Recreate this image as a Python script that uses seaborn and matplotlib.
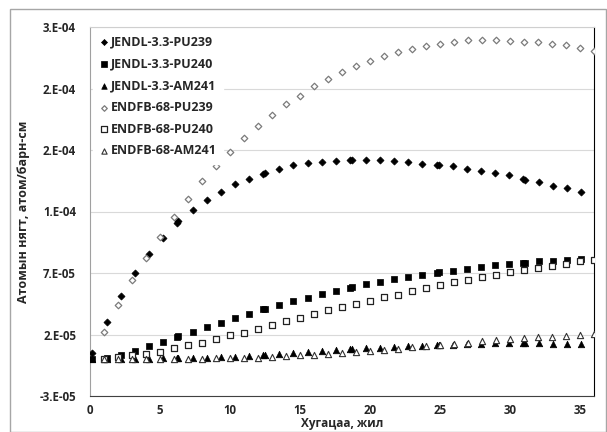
import numpy as np
import pandas as pd
import seaborn as sns
import matplotlib
matplotlib.use("Agg")
import matplotlib.pyplot as plt
from matplotlib.patches import Rectangle

sns.set_style("white")
plt.rcParams['font.family'] = ['Open Sans', 'DejaVu Sans']
plt.rcParams['font.weight'] = 'bold'

# burnup time, years (JENDL points have double entries at cycle ends)
jendl_years = [0.15, 1.18, 2.18, 3.18, 4.18, 5.18, 6.2, 6.32, 7.33, 8.33, 9.33, 10.33,
               11.33, 12.33, 12.48, 13.5, 14.5, 15.55, 16.55, 17.55, 18.55, 18.7, 19.7,
               20.7, 21.7, 22.73, 23.73, 24.8, 24.9, 25.9, 26.9, 27.9, 28.9, 29.9,
               30.93, 31.05, 32.05, 33.05, 34.05, 35.05]
endf_years = list(range(1, 37))

# atom densities, 1e-5 atom/barn-cm
jendl_pu239 = [0.49, 3.0, 5.14, 7.0, 8.54, 9.85, 11.07, 11.2, 12.1, 12.9, 13.6, 14.2,
               14.63, 15.07, 15.15, 15.45, 15.74, 15.94, 16.04, 16.1, 16.18, 16.18, 16.18,
               16.18, 16.1, 16.04, 15.9, 15.8, 15.8, 15.66, 15.45, 15.28, 15.12, 14.93,
               14.63, 14.58, 14.36, 14.11, 13.9, 13.62]
jendl_pu240 = [0.0, 0.08, 0.3, 0.65, 1.04, 1.42, 1.8, 1.88, 2.2, 2.64, 2.94, 3.38,
               3.67, 4.05, 4.08, 4.36, 4.71, 4.98, 5.3, 5.5, 5.74, 5.85, 6.07,
               6.23, 6.5, 6.66, 6.85, 7.02, 7.07, 7.18, 7.32, 7.48, 7.62, 7.73,
               7.81, 7.81, 7.94, 7.99, 8.05, 8.13]
jendl_am241 = [0.0, 0.0, 0.0, 0.02, 0.03, 0.05, 0.07, 0.08, 0.11, 0.12, 0.14, 0.2,
               0.24, 0.3, 0.32, 0.38, 0.46, 0.55, 0.66, 0.75, 0.82, 0.84, 0.87,
               0.93, 0.98, 1.05, 1.1, 1.14, 1.15, 1.17, 1.22, 1.25, 1.27, 1.28,
               1.3, 1.3, 1.27, 1.26, 1.25, 1.25]
endf_pu239 = [2.18, 4.36, 6.4, 8.24, 9.93, 11.58, 13.03, 14.47, 15.72, 16.86, 17.95, 18.98,
              19.88, 20.7, 21.43, 22.19, 22.79, 23.33, 23.79, 24.26, 24.61, 24.94, 25.21,
              25.48, 25.61, 25.78, 25.91, 25.91, 25.97, 25.89, 25.81, 25.75, 25.61, 25.5,
              25.29, 25.07]
endf_pu240 = [0.0, 0.16, 0.34, 0.4, 0.57, 0.87, 1.16, 1.32, 1.63, 1.96, 2.15, 2.48,
              2.81, 3.1, 3.34, 3.65, 3.97, 4.24, 4.52, 4.76, 5.03, 5.25, 5.52,
              5.79, 5.99, 6.26, 6.44, 6.66, 6.85, 7.05, 7.26, 7.42, 7.59, 7.75,
              7.95, 8.08]
endf_am241 = [0.0, 0.02, 0.0, 0.0, 0.0, 0.0, 0.0, 0.0, 0.05, 0.08, 0.1, 0.13,
              0.16, 0.24, 0.3, 0.33, 0.44, 0.52, 0.57, 0.65, 0.73, 0.85, 0.98,
              1.04, 1.14, 1.2, 1.34, 1.47, 1.55, 1.66, 1.75, 1.8, 1.83, 1.88,
              1.94, 2.02]

y_ticks = [-3e-5, 2e-5, 7e-5, 1.2e-4, 1.7e-4, 2.2e-4, 2.7e-4]
y_tick_labels = ['-3.E-05', '2.E-05', '7.E-05', '1.E-04', '2.E-04', '2.E-04', '3.E-04']
x_ticks = [0, 5, 10, 15, 20, 25, 30, 35]

series = [
    ("JENDL-3.3-PU239", jendl_years, jendl_pu239, dict(marker='D', s=13, color='black', edgecolor='black', linewidth=0.5)),
    ("JENDL-3.3-PU240", jendl_years, jendl_pu240, dict(marker='s', s=24, color='black', edgecolor='black', linewidth=0.5)),
    ("JENDL-3.3-AM241", jendl_years, jendl_am241, dict(marker='^', s=22, color='black', edgecolor='black', linewidth=0.5)),
    ("ENDFB-68-PU239", endf_years, endf_pu239, dict(marker='D', s=11, color='white', edgecolor='#7a7a7a', linewidth=0.9)),
    ("ENDFB-68-PU240", endf_years, endf_pu240, dict(marker='s', s=22, color='white', edgecolor='#222222', linewidth=0.9)),
    ("ENDFB-68-AM241", endf_years, endf_am241, dict(marker='^', s=20, color='white', edgecolor='#333333', linewidth=0.8)),
]

fig = plt.figure(figsize=(6.07, 4.32), dpi=100)
fig.patches.append(Rectangle((10 / 607, 0.0), 596 / 607, 1 - 9 / 432, transform=fig.transFigure,
                             fill=False, edgecolor='#a6a6a6', linewidth=1.0))
ax = fig.add_axes([90 / 607, 1 - 396 / 432, 504 / 607, 369 / 432])

for label, xs, ys, kw in series:
    df = pd.DataFrame({"year": xs, "density": np.array(ys) * 1e-5})
    sns.scatterplot(data=df, x="year", y="density", ax=ax, label=label, zorder=3, **kw)

ax.set_xlim(0, 36)
ax.set_ylim(-3e-5, 2.7e-4)
ax.set_yticks(y_ticks)
ax.set_yticklabels(y_tick_labels)
ax.set_xticks(x_ticks)
ax.tick_params(axis='y', length=0, labelsize=8.3, pad=10)
ax.tick_params(axis='x', length=0, labelsize=8.3, pad=6)
for lab in ax.get_xticklabels() + ax.get_yticklabels():
    lab.set_fontweight('bold')
ax.yaxis.grid(True, color='#d9d9d9', linewidth=0.8)
ax.set_axisbelow(True)

ax.spines['left'].set_color('#a0a0a0')
ax.spines['bottom'].set_color('#404040')
ax.spines['right'].set_color('black')
ax.spines['top'].set_color('#cfcfcf')

ax.set_xlabel("Хугацаа, жил", fontsize=8.5, fontweight='bold')
ax.set_ylabel("Атомын нягт, атом/барн-см", fontsize=9, fontweight='bold')
ax.xaxis.set_label_coords(0.5, -0.058)
ax.yaxis.set_label_coords(-0.12, 0.5)

leg = ax.legend(loc='upper left', bbox_to_anchor=(0.0, 1.0), frameon=True, framealpha=1,
                edgecolor='white', fontsize=9, handletextpad=0.15, labelspacing=0.7,
                borderpad=0.5, borderaxespad=0.2, handlelength=0.8, markerscale=0.85)
for t in leg.get_texts():
    t.set_fontweight('bold')

fig.savefig("out.png", dpi=100)
